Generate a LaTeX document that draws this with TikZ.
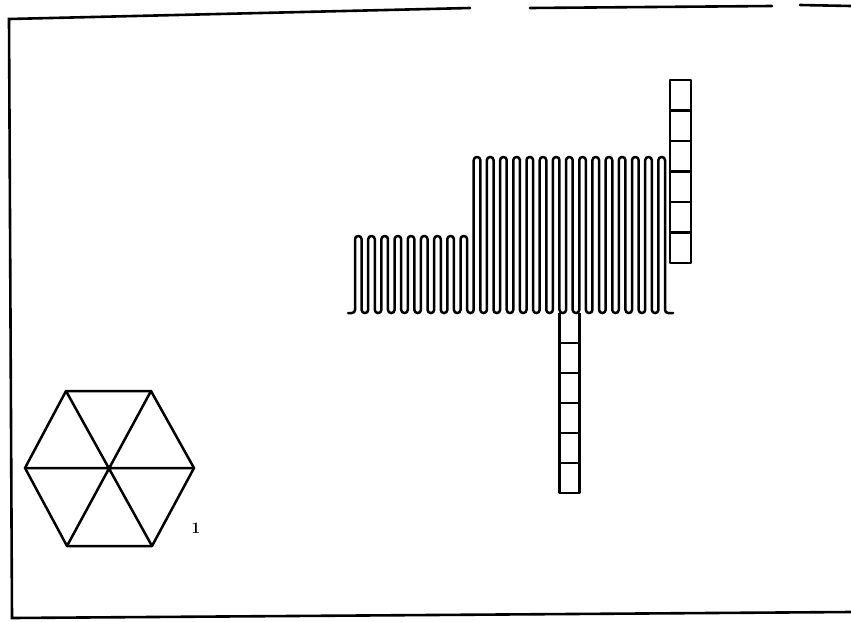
\documentclass[tikz,border=0pt]{standalone}
\usetikzlibrary{calc}
\begin{document}
\begin{tikzpicture}[x=1pt,y=-1pt,
  ink/.style={line width=2.5pt,line join=round,line cap=round},
  frame/.style={line width=2.6pt,line cap=round},
  boxcol/.style={line width=2.5pt,line join=round}]
\useasboundingbox (0,0) rectangle (851,621);
% frame
\coordinate (tl) at (9,19);
\coordinate (bl) at (12,618);
\coordinate (br) at (851,612);
\draw[frame] (470,8) -- (tl) -- (bl) -- (br);
\draw[frame] (530,8) -- (772,6);
\draw[frame] (800,5) -- (851,6);
% meander
\pgfmathsetmacro{\h}{6.596}
\draw[ink,rounded corners=3.1pt] (348,313)
  foreach \i in {0,...,8} {
    -- ({355+2*\i*\h},313) -- ({355+2*\i*\h},236)
    -- ({355+(2*\i+1)*\h},236) -- ({355+(2*\i+1)*\h},313) }
  foreach \i in {9,...,23} {
    -- ({355+2*\i*\h},313) -- ({355+2*\i*\h},157)
    -- ({355+(2*\i+1)*\h},157) -- ({355+(2*\i+1)*\h},313) }
  -- (673,313);
% lower column of boxes
\pgfmathsetmacro{\xa}{355+31*\h}
\pgfmathsetmacro{\xb}{355+34*\h}
\draw[boxcol] (\xa,313) -- (\xa,493) -- (\xb,493) -- (\xb,313);
\foreach \y in {343,373,403,433,463}
  \draw[boxcol] (\xa,\y) -- (\xb,\y);
% upper column of boxes
\draw[boxcol] (670,80) rectangle (691,263);
\foreach \y in {110.5,141,171.5,202,232.5}
  \draw[boxcol] (670,\y) -- (691,\y);
% hexagon
\coordinate (c) at (109,468);
\coordinate (h1) at (66,391);
\coordinate (h2) at (151,391);
\coordinate (h3) at (194,468);
\coordinate (h4) at (152,546);
\coordinate (h5) at (67,546);
\coordinate (h6) at (25,468);
\draw[ink] (h1) -- (h2) -- (h3) -- (h4) -- (h5) -- (h6) -- cycle;
\draw[ink] (h1) -- (h4) (h2) -- (h5) (h3) -- (h6);
\node[font=\fontsize{16}{16}\bfseries\selectfont,inner sep=0pt] (lbl) at (196,528) {1};
\end{tikzpicture}
\end{document}
